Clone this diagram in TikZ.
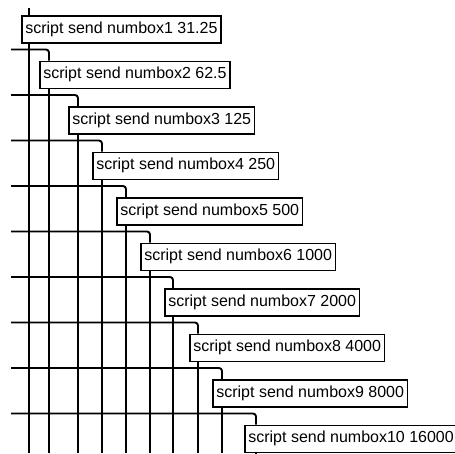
\documentclass[tikz,border=0pt]{standalone}
\usepackage{fontspec}
\setmainfont{Liberation Sans}
\usetikzlibrary{positioning, calc}
\tikzset{
  sendbox/.style={
    draw=black, line width=1.7pt, fill=white, anchor=north west,
    minimum height=27pt, inner xsep=3.5pt, inner ysep=0pt,
    font=\fontsize{16}{18}\selectfont,
  },
  wire/.style={draw=black, line width=1.9pt},
}
\begin{document}
\begin{tikzpicture}[x=1pt, y=-1pt]
\useasboundingbox (0,0) rectangle (455,453);

\node[sendbox] (nb1) at (21,15) {script send numbox1 31.25};
\node[sendbox] (nb2) at (39,60.5) {script send numbox2 62.5};
\node[sendbox] (nb3) at (68,106) {script send numbox3 125};
\node[sendbox] (nb4) at (92,151.5) {script send numbox4 250};
\node[sendbox] (nb5) at (116,197) {script send numbox5 500};
\node[sendbox] (nb6) at (140,242.5) {script send numbox6 1000};
\node[sendbox] (nb7) at (164,288) {script send numbox7 2000};
\node[sendbox] (nb8) at (189,333.5) {script send numbox8 4000};
\node[sendbox] (nb9) at (212,379) {script send numbox9 8000};
\node[sendbox] (nb10) at (244,424.5) {script send numbox10 16000};

% first box is fed from above
\coordinate (h1) at (29,8);
\coordinate (v1) at (29,453);
\draw[wire] (h1) -- (h1 |- nb1.north);
\draw[wire] (nb1.south -| v1) -- (v1);

% the others from a line coming in on the left
\foreach \i/\vx/\hy in {2/49/49.5, 3/78/95, 4/102/140.5, 5/126/186,
                         6/150/231.5, 7/173/277, 8/198/322.5,
                         9/222/368, 10/256/413.5} {
  \coordinate (h\i) at (11,\hy);
  \coordinate (v\i) at (\vx,453);
  \draw[wire, rounded corners=3pt] (h\i) -| (v\i |- nb\i.north);
  \draw[wire] (nb\i.south -| v\i) -- (v\i);
}

\end{tikzpicture}
\end{document}
